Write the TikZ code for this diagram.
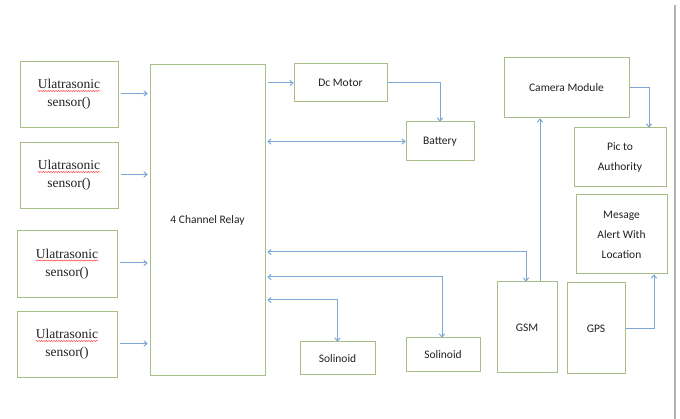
\documentclass[tikz,border=0pt]{standalone}
\usepackage{fontspec}
\setmainfont{Liberation Serif}
\newfontfamily\calfont{Carlito}
\usetikzlibrary{arrows.meta,decorations.pathmorphing}
\definecolor{boxgreen}{HTML}{A8BE88}
\definecolor{arrblue}{HTML}{7FA6D2}
\definecolor{txt}{HTML}{222222}
\tikzset{
  box/.style={draw=boxgreen, line width=1pt, fill=white, text=txt, inner sep=0pt, align=center, font=\calfont\fontsize{11.5}{20}\selectfont},
  sens/.style={text=txt, inner sep=0pt, font=\fontsize{13.5}{16}\selectfont},
  arr/.style={draw=arrblue, line width=1pt, -{To[length=4pt,width=6pt]}},
  darr/.style={draw=arrblue, line width=1pt, {To[length=4pt,width=6pt]}-{To[length=4pt,width=6pt]}},
  wavy/.style={draw=red!80, line width=0.5pt, decorate, decoration={snake, amplitude=0.5pt, segment length=2.5pt}}
}
\begin{document}
\begin{tikzpicture}[x=1pt,y=-1pt]
\useasboundingbox[fill=white] (0,0) rectangle (680,419);
% sensors
\node[box, minimum width=98pt, minimum height=66pt] (s1) at (69,95) {};
\node[box, minimum width=98pt, minimum height=66pt] (s2) at (69,176) {};
\node[box, minimum width=100pt, minimum height=67pt] (s3) at (67,264.5) {};
\node[box, minimum width=100pt, minimum height=66pt] (s4) at (67,345) {};
\foreach \s in {s1,s2,s3,s4}{
  \node[sens, anchor=base] (\s a) at ([yshift=6pt]\s.center) {Ulatrasonic};
  \node[sens, anchor=base] (\s b) at ([yshift=-12pt]\s.center) {sensor()};
  \draw[wavy] ([yshift=-2pt]\s a.base west) -- ([yshift=-2pt]\s a.base east);
}
% relay and others
\node[box, minimum width=115pt, minimum height=311pt] (relay) at (207.5,220.5) {4 Channel Relay};
\node[box, minimum width=93pt, minimum height=38pt] (dc) at (340.5,83) {Dc Motor};
\node[box, minimum width=68pt, minimum height=39pt] (bat) at (440,141.5) {Battery};
\node[box, minimum width=125pt, minimum height=60pt] (cam) at (566.5,88) {Camera Module};
\node[box, minimum width=92pt, minimum height=59pt] (pic) at (620,157.5) {Pic to\\Authority};
\node[box, minimum width=91pt, minimum height=79pt] (msg) at (621.5,234.5) {Mesage\\Alert With\\Location};
\node[box, minimum width=60pt, minimum height=91pt] (gsm) at (527,327.5) {GSM};
\node[box, minimum width=58pt, minimum height=91pt] (gps) at (596,328.5) {GPS};
\node[box, minimum width=75pt, minimum height=33pt] (sol1) at (337.5,358.5) {Solinoid};
\node[box, minimum width=74pt, minimum height=34pt] (sol2) at (443,355) {Solinoid};
% connectors
\foreach \s in {s1,s2,s3,s4}{
  \draw[arr, shorten <=2pt, shorten >=2pt] ([yshift=1.5pt]\s.east) -- ([yshift=1.5pt]\s.east -| relay.west);
}
\draw[arr, shorten <=2pt] (relay.east |- dc.west) -- (dc.west);
\draw[arr] (dc.east) -| (bat.north);
\draw[darr, shorten <=2pt] (relay.east |- bat.west) -- (bat.west);
\draw[arr] (cam.east) -| ([xshift=29pt]pic.north);
\draw[arr] ([xshift=13pt]gsm.north) -- ([xshift=13pt]gsm.north |- cam.south);
\draw[arr] (gps.east) -| ([xshift=32.5pt]msg.south);
\draw[darr, shorten <=2pt] ([yshift=-31.5pt]relay.east) -| ([xshift=-1pt]gsm.north);
\draw[darr, shorten <=2pt] ([yshift=-56.5pt]relay.east) -| ([xshift=-1pt]sol2.north);
\draw[darr, shorten <=2pt] ([yshift=-79.5pt]relay.east) -| (sol1.north);
% page edge
\draw[gray!60, line width=2pt] (675,5) -- (675,419);
\end{tikzpicture}
\end{document}
